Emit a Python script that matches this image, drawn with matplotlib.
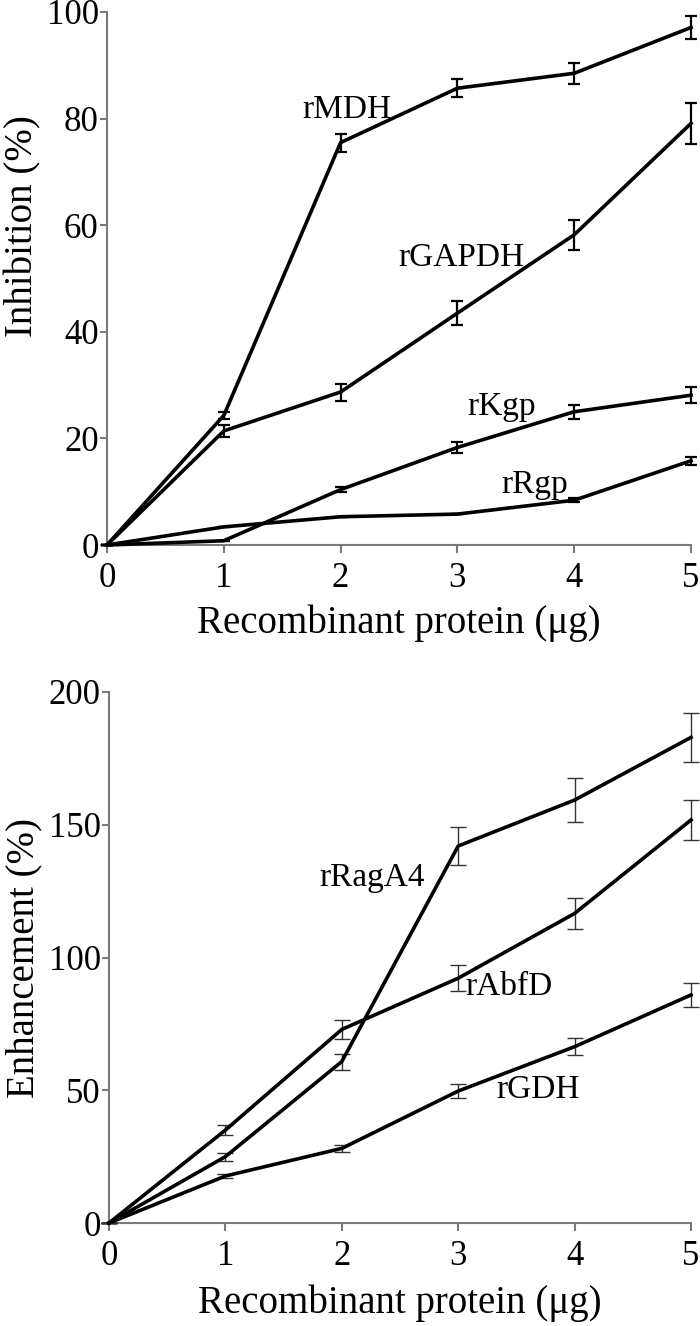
import matplotlib
matplotlib.use("Agg")
import matplotlib.pyplot as plt

plt.rcParams['font.family'] = ['Liberation Serif', 'DejaVu Serif']

# ---------------- data ----------------
x_dose = [0, 1, 2, 3, 4, 5]

# Inhibition (%)
mdh = [0, 24.3, 75.5, 85.7, 88.5, 97.1]
mdh_err = [0, 0.6, 1.7, 1.7, 2.0, 2.1]
gapdh = [0, 21.4, 28.7, 43.5, 58.2, 79.1]
gapdh_err = [0, 1.1, 1.6, 2.3, 2.8, 3.9]
kgp = [0, 0.8, 10.4, 18.3, 25.0, 28.1]
kgp_err = [0, 0, 0.5, 1.0, 1.3, 1.5]
rgp = [0, 3.4, 5.3, 5.8, 8.4, 15.8]
rgp_err = [0, 0, 0, 0, 0.4, 0.8]

# Enhancement (%)
raga4 = [0, 25.0, 60.8, 142.0, 159.3, 182.9]
raga4_err = [0, 1.5, 3.0, 7.2, 8.2, 9.2]
abfd = [0, 35.0, 72.9, 92.2, 116.6, 151.8]
abfd_err = [0, 1.9, 3.5, 5.0, 5.8, 7.6]
gdh = [0, 17.7, 28.1, 49.7, 66.4, 85.9]
gdh_err = [0, 0.8, 1.2, 2.8, 3.3, 4.4]

top_series = [("rMDH", mdh, mdh_err), ("rGAPDH", gapdh, gapdh_err),
              ("rKgp", kgp, kgp_err), ("rRgp", rgp, rgp_err)]
bot_series = [("rRagA4", raga4, raga4_err), ("rAbfD", abfd, abfd_err),
              ("rGDH", gdh, gdh_err)]

# label positions (data coords)
top_label_pos = {"rMDH": (2.05, 81.6), "rGAPDH": (3.03, 53.8),
                 "rKgp": (3.38, 25.9), "rRgp": (3.66, 11.3)}
bot_label_pos = {"rRagA4": (2.26, 130), "rAbfD": (3.44, 88.9), "rGDH": (3.69, 50.1)}

W, H = 700, 1326
fig = plt.figure(figsize=(W / 100, H / 100), dpi=100)

spine_col = "#7a7a7a"


def style(ax, ymax, yticks):
    ax.set_xlim(0, 5)
    ax.set_ylim(0, ymax)
    ax.set_xticks(x_dose)
    ax.set_yticks(yticks)
    for s in ["top", "right"]:
        ax.spines[s].set_visible(False)
    for s in ["left", "bottom"]:
        ax.spines[s].set_color(spine_col)
        ax.spines[s].set_linewidth(1.5)
    ax.tick_params(axis="x", direction="out", length=6, width=1.5,
                   color=spine_col, labelsize=25, pad=6)
    ax.tick_params(axis="y", direction="out", length=5, width=1.5,
                   color=spine_col, labelsize=25, pad=1)
    ax.set_xlabel("Recombinant protein (\u03bcg)", fontsize=28)


def ax_rect(x0, x1, ytop, ybot):
    return [x0 / W, 1 - ybot / H, (x1 - x0) / W, (ybot - ytop) / H]


ax1 = fig.add_axes(ax_rect(107, 691, 12, 545))
style(ax1, 100, [0, 20, 40, 60, 80, 100])
for name, vals, err in top_series:
    ax1.errorbar(x_dose, vals, yerr=err, color="black", lw=2.6,
                 ecolor="black", elinewidth=1.6, capsize=4.5, capthick=1.6,
                 clip_on=False, zorder=3)
    lx, ly = top_label_pos[name]
    ax1.text(lx, ly, name, fontsize=24, ha="center", va="center")
ax1.set_ylabel("Inhibition (%)", fontsize=28)
ax1.yaxis.set_label_coords(-0.112, 0.598)
ax1.xaxis.set_label_coords(0.5, -0.112)

ax2 = fig.add_axes(ax_rect(109, 691, 692, 1223))
style(ax2, 200, [0, 50, 100, 150, 200])
for name, vals, err in bot_series:
    ax2.errorbar(x_dose, vals, yerr=err, color="black", lw=2.6,
                 ecolor="#333333", elinewidth=1.0, capsize=5.5, capthick=1.0,
                 clip_on=False, zorder=3)
    lx, ly = bot_label_pos[name]
    ax2.text(lx, ly, name, fontsize=24, ha="center", va="center")
ax2.set_ylabel("Enhancement (%)", fontsize=28)
ax2.yaxis.set_label_coords(-0.115, 0.5)
ax2.xaxis.set_label_coords(0.5, -0.115)

fig.savefig("out.png", dpi=100)
